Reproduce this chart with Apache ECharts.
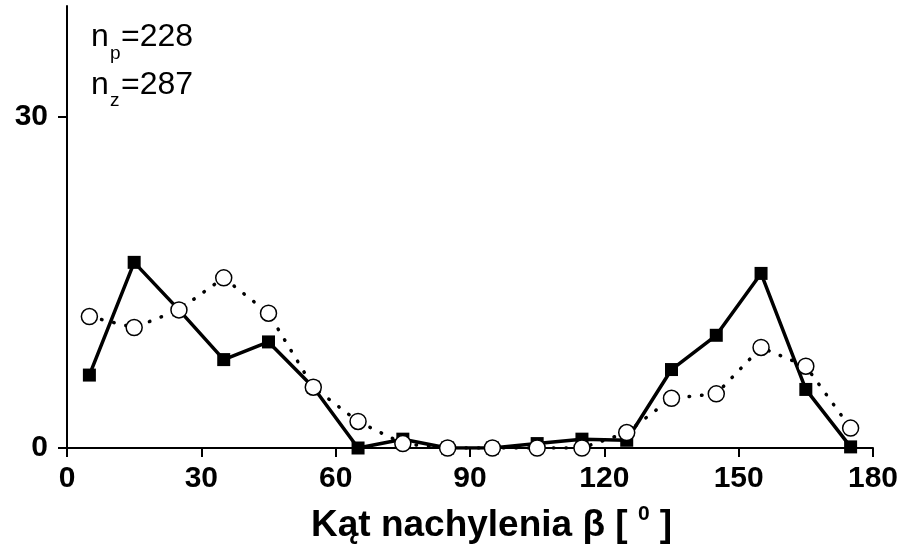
<!DOCTYPE html>
<html>
<head>
<meta charset="utf-8">
<script src="https://cdn.jsdelivr.net/npm/echarts@6/dist/echarts.min.js"></script>
<style>
  html, body { margin: 0; padding: 0; background: #fff; }
  #chart { width: 910px; height: 546px; }
</style>
</head>
<body>
<div id="chart"></div>
<script>
// angle bins (deg), centres of 10-degree classes
const angles = [5, 15, 25, 35, 45, 55, 65, 75, 85, 95, 105, 115, 125, 135, 145, 155, 165, 175]
// filled squares, solid line
const seriesP = [6.6, 16.8, 12.5, 8.0, 9.6, 5.5, 0, 0.8, 0, 0, 0.4, 0.8, 0.7, 7.1, 10.2, 15.8, 5.3, 0.1]
// open circles, dotted line
const seriesZ = [11.9, 10.9, 12.5, 15.4, 12.2, 5.5, 2.4, 0.4, 0, 0, 0, 0, 1.4, 4.5, 4.9, 9.1, 7.4, 1.8]
const yTicks = [0, 30]

const font = 'Liberation Sans, Arial, sans-serif'
const chart = echarts.init(document.getElementById('chart'))

const toPairs = (ys) => angles.map((a, i) => [a, ys[i]])

chart.setOption({
  animation: false,
  backgroundColor: '#fff',
  grid: { left: 67, right: 37, top: 6, bottom: 98 },
  xAxis: {
    type: 'value',
    min: 0,
    max: 180,
    interval: 30,
    axisLine: { lineStyle: { color: '#000', width: 2 } },
    axisTick: { length: 9, lineStyle: { color: '#000', width: 2 } },
    axisLabel: { color: '#000', fontSize: 30, fontWeight: 'bold', fontFamily: font, margin: 16 },
    splitLine: { show: false }
  },
  yAxis: {
    type: 'value',
    min: 0,
    max: 40,
    axisLine: { show: true, lineStyle: { color: '#000', width: 2 } },
    axisTick: { show: true, length: 9, customValues: yTicks, lineStyle: { color: '#000', width: 2 } },
    axisLabel: { color: '#000', fontSize: 30, fontWeight: 'bold', fontFamily: font, margin: 19, customValues: yTicks },
    splitLine: { show: false }
  },
  series: [
    {
      type: 'line',
      data: toPairs(seriesP),
      symbol: 'rect',
      symbolSize: 13,
      lineStyle: { color: '#000', width: 3.5 },
      itemStyle: { color: '#000' },
      z: 2
    },
    {
      type: 'line',
      data: toPairs(seriesZ),
      symbol: 'circle',
      symbolSize: 16,
      lineStyle: { color: '#000', width: 3.5, type: [0.5, 12], cap: 'round' },
      itemStyle: { color: '#fff', borderColor: '#000', borderWidth: 1.5 },
      z: 3
    }
  ],
  graphic: [
    { type: 'text', left: 91, top: 21, style: { text: 'n', font: '32px ' + font, fill: '#000' } },
    { type: 'text', left: 110, top: 44, style: { text: 'p', font: '19px ' + font, fill: '#000' } },
    { type: 'text', left: 121, top: 21, style: { text: '=228', font: '32px ' + font, fill: '#000' } },
    { type: 'text', left: 91, top: 69, style: { text: 'n', font: '32px ' + font, fill: '#000' } },
    { type: 'text', left: 110, top: 91, style: { text: 'z', font: '19px ' + font, fill: '#000' } },
    { type: 'text', left: 121, top: 69, style: { text: '=287', font: '32px ' + font, fill: '#000' } },
    {
      type: 'text', left: 311, top: 504,
      style: {
        text: '{m|Kąt nachylenia β [ }{s|0}{m| ]}',
        fill: '#000',
        rich: {
          m: { fontSize: 37, fontWeight: 'bold', fontFamily: font, lineHeight: 44 },
          s: { fontSize: 21, fontWeight: 'bold', fontFamily: font, verticalAlign: 'top', lineHeight: 44 }
        }
      }
    }
  ]
})
</script>
</body>
</html>
